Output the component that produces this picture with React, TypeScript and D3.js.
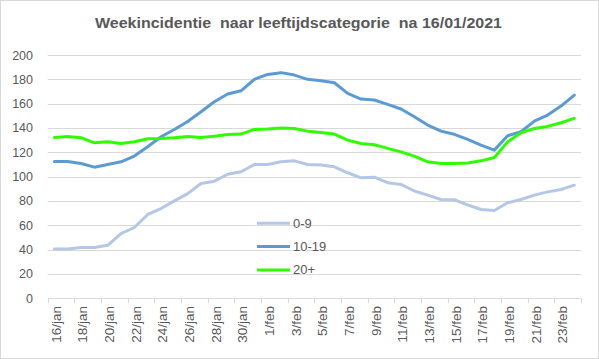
import React, { useEffect, useRef } from 'react';
import * as d3 from 'd3';

// Categories: one per day, 16 Jan - 24 Feb
const dates = [
  '16/jan', '17/jan', '18/jan', '19/jan', '20/jan', '21/jan', '22/jan', '23/jan',
  '24/jan', '25/jan', '26/jan', '27/jan', '28/jan', '29/jan', '30/jan', '31/jan',
  '1/feb', '2/feb', '3/feb', '4/feb', '5/feb', '6/feb', '7/feb', '8/feb', '9/feb',
  '10/feb', '11/feb', '12/feb', '13/feb', '14/feb', '15/feb', '16/feb', '17/feb',
  '18/feb', '19/feb', '20/feb', '21/feb', '22/feb', '23/feb', '24/feb',
];

const age0to9 = [
  40.6, 40.6, 41.7, 41.7, 43.6, 53.2, 58.2, 68.9, 73.8, 80.1,
  86.0, 94.4, 96.3, 102.0, 104.0, 110.0, 110.0, 112.2, 113.0, 110.0,
  109.5, 108.1, 103.2, 99.0, 99.6, 95.0, 93.6, 88.2, 84.8, 81.2,
  81.0, 76.8, 73.0, 72.2, 78.5, 81.2, 84.8, 87.5, 89.4, 93.0,
];

const age10to19 = [
  112.5, 112.5, 110.8, 107.8, 110.0, 112.2, 116.9, 124.6, 132.8, 138.8,
  145.4, 153.4, 161.6, 167.9, 170.6, 180.0, 184.0, 185.5, 183.5, 180.0,
  178.9, 177.2, 168.5, 163.8, 163.0, 159.4, 155.6, 149.2, 142.4, 137.4,
  134.8, 130.6, 125.9, 121.8, 133.6, 136.9, 145.7, 150.6, 158.0, 167.0,
];

const age20plus = [
  132.2, 133.0, 132.0, 127.8, 128.7, 127.3, 128.7, 131.1, 131.4, 132.0,
  133.0, 132.2, 133.3, 134.7, 135.0, 138.8, 139.1, 139.9, 139.6, 137.4,
  136.3, 135.0, 130.0, 127.3, 126.2, 123.2, 120.4, 116.9, 112.2, 110.8,
  110.8, 111.2, 113.0, 115.8, 128.7, 136.0, 139.6, 141.3, 144.3, 147.9,
];

const seriesNames = ['0-9', '10-19', '20+'];
const seriesColors = ['#b4c7e7', '#5b9bd5', '#2eff00'];
const yTicks = [0, 20, 40, 60, 80, 100, 120, 140, 160, 180, 200];

const title = 'Weekincidentie  naar leeftijdscategorie  na 16/01/2021';

const App = () => {
  const ref = useRef<SVGSVGElement>(null);

  useEffect(() => {
    const width = 599;
    const height = 359;
    const svg = d3.select(ref.current);
    svg.selectAll('*').remove();
    const font = '"Liberation Sans", Arial, sans-serif';
    const grey = '#595959';

    // chart border
    svg.append('rect')
      .attr('x', 0.5).attr('y', 0.5)
      .attr('width', width - 1).attr('height', height - 1)
      .attr('fill', '#fff').attr('stroke', '#d9d9d9');

    svg.append('text')
      .attr('x', 95).attr('y', 28)
      .attr('textLength', 407)
      .attr('lengthAdjust', 'spacingAndGlyphs')
      .attr('font-family', font).attr('font-weight', 'bold').attr('font-size', 14)
      .attr('fill', grey)
      .style('white-space', 'pre')
      .text(title);

    const x = d3.scaleBand().domain(dates).range([47.7, 581]).padding(0);
    const y = d3.scaleLinear().domain([0, 200]).range([298.3, 55]);

    // gridlines
    svg.append('g').selectAll('line')
      .data(yTicks)
      .enter().append('line')
      .attr('x1', 47.7).attr('x2', 581)
      .attr('y1', (d) => Math.round(y(d)) + 0.5)
      .attr('y2', (d) => Math.round(y(d)) + 0.5)
      .attr('stroke', '#d9d9d9').attr('stroke-width', 1);

    // y labels
    svg.append('g').selectAll('text')
      .data(yTicks)
      .enter().append('text')
      .attr('x', 33).attr('y', (d) => y(d) + 4.5)
      .attr('text-anchor', 'end')
      .attr('font-family', font).attr('font-size', 12.5)
      .attr('fill', grey)
      .text((d) => d);

    // x ticks every 2 days
    const tickPos = dates.filter((_, i) => i % 2 === 0).map((d) => x(d) as number);
    tickPos.push(x.range()[1]);
    svg.append('g').selectAll('line')
      .data(tickPos)
      .enter().append('line')
      .attr('x1', (d) => Math.round(d) + 0.5).attr('x2', (d) => Math.round(d) + 0.5)
      .attr('y1', y(0)).attr('y2', y(0) + 5)
      .attr('stroke', '#d9d9d9');

    // x labels
    svg.append('g').selectAll('text')
      .data(dates.filter((_, i) => i % 2 === 0))
      .enter().append('text')
      .attr('transform', (d) => `translate(${(x(d) as number) + x.bandwidth() / 2 + 1.5},306) rotate(-90)`)
      .attr('text-anchor', 'end')
      .attr('dy', '0.35em')
      .attr('font-family', font).attr('font-size', 13.5)
      .attr('fill', grey)
      .text((d) => d);

    // lines
    const allSeries = [age0to9, age10to19, age20plus];
    const line = d3.line<number>()
      .x((_, i) => (x(dates[i]) as number) + x.bandwidth() / 2)
      .y((d) => y(d));

    allSeries.forEach((vals, k) => {
      svg.append('path')
        .datum(vals)
        .attr('d', line)
        .attr('fill', 'none')
        .attr('stroke', seriesColors[k])
        .attr('stroke-width', 3)
        .attr('stroke-linejoin', 'round')
        .attr('stroke-linecap', 'round');
    });

    // legend
    const legend = svg.append('g');
    seriesNames.forEach((name, k) => {
      const ly = 223.3 + k * 23.3;
      legend.append('line')
        .attr('x1', 257).attr('x2', 290)
        .attr('y1', ly).attr('y2', ly)
        .attr('stroke', seriesColors[k]).attr('stroke-width', 3);
      legend.append('text')
        .attr('x', 293).attr('y', ly + 4.5)
        .attr('font-family', font).attr('font-size', 13)
        .attr('fill', grey)
        .text(name);
    });
  }, []);

  return (
    <div style={{ position: 'fixed', left: 0, top: 0 }}>
      <svg ref={ref} width={599} height={359} style={{ display: 'block' }} />
    </div>
  );
};

export default App;
